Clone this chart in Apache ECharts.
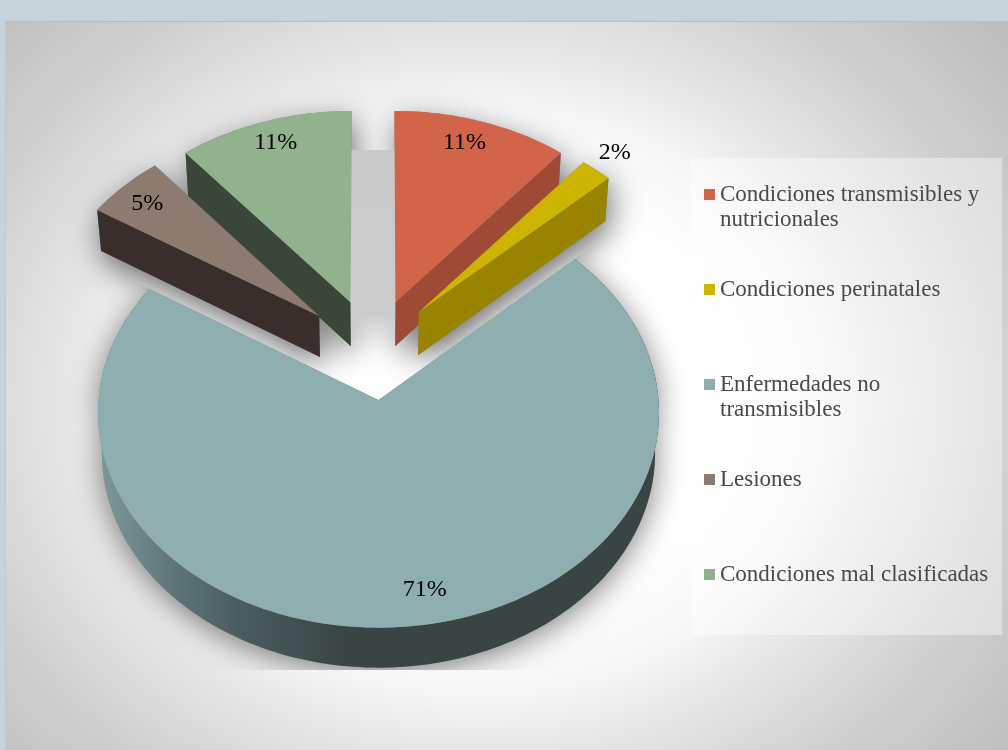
<!DOCTYPE html>
<html><head><meta charset="utf-8">
<style>html,body{margin:0;padding:0;background:#c6d3da}#c{width:1008px;height:750px}</style>
<script src="https://cdn.jsdelivr.net/npm/echarts@6/dist/echarts.min.js"></script>
</head><body><div id="c"></div>
<script>
const categories = ['Condiciones transmisibles y nutricionales','Condiciones perinatales','Enfermedades no transmisibles','Lesiones','Condiciones mal clasificadas'];
const legendLabels = ['\nCondiciones transmisibles y\nnutricionales','\nCondiciones perinatales\n ','\nEnfermedades no\ntransmisibles','\nLesiones\n ','\nCondiciones mal clasificadas\n '];
const values = [11, 2, 71, 5, 11];

const topColors = ['#d2644a','#ccb400','#8eaeb0','#8c7b6e','#90b28d'];
const wallColors = ['#9f4a35','#998400','#394545','#3a2e2c','#3a4638'];
const wallFaces = ['end','end','rim','start','start'];
const explodes = [[.062,-.47],[.147,-.42],[0,0],[-.217,-.402],[-.103,-.47]];
const depths = [44,43,40,41,44];
const drawOrder = [2,4,0,1,3];
const labelPlace = [[.85,-5,-5],[1.15,-7,3],[.84,23,1],[.85,-5,-1],[.85,-1,-5]];

const cx = 378.5, cy = 400, rx = 280, ry = 214, k = .06, wallScale = .986;
const total = values.reduce((a,b)=>a+b,0);
function project(X,Y){const s=1/(1-k*Y);return [cx+rx*X*s,cy+ry*Y*s];}
function lower(p,h){return [cx+(p[0]-cx)*wallScale,p[1]+h];}

function renderSlice(i){
  return function(params,api){
    const val = api.value(0);
    let before = 0; for(let j=0;j<i;j++) before += values[j];
    const a0 = before/total*Math.PI*2, a1 = (before+val)/total*Math.PI*2;
    const [ex,ey] = explodes[i], h = depths[i];
    const apex = project(ex,ey);
    const n = Math.max(8,Math.ceil((a1-a0)*40));
    const arc = [], vs = [];
    for(let t=0;t<=n;t++){
      const a=a0+(a1-a0)*t/n, u=Math.sin(a), v=-Math.cos(a);
      arc.push(project(u+ex,v+ey)); vs.push(v);
    }
    const first = arc[0], last = arc[n];
    let sil, wall, clip;
    const face = wallFaces[i];
    if(face==='end'){
      wall=[apex,last,lower(last,h),lower(apex,h)];
      sil=[apex].concat(arc,[lower(last,h),lower(apex,h)]);
    }else if(face==='start'){
      wall=[apex,first,lower(first,h),lower(apex,h)];
      sil=[apex,lower(apex,h),lower(first,h)].concat(arc);
    }else{
      const below = arc.map(p=>lower(p,h));
      wall = arc.concat(below.slice().reverse());
      sil = [apex].concat(arc.map((p,t)=>vs[t]>-.05?lower(p,h):p));
      const out = (p)=>[apex[0]+(p[0]-apex[0])*1.5,apex[1]+(p[1]-apex[1])*1.5];
      clip = {type:'polygon',shape:{points:[apex,out(first),[1008,670],[0,670],out(last)]}};
    }
    const order = drawOrder.indexOf(i)+1;
    const wallFill = face==='rim'
      ? new echarts.graphic.LinearGradient(103,0,655,0,[
          {offset:0,color:'#7d9799'},{offset:.12,color:'#5f7779'},{offset:.25,color:'#4a5c5d'},
          {offset:.44,color:'#394545'},{offset:1,color:'#394545'}],true)
      : wallColors[i];
    const labelR = labelPlace[i][0], mid=(a0+a1)/2;
    const lp = project(Math.sin(mid)*labelR+ex,-Math.cos(mid)*labelR+ey);
    const shadowEl = {type:'polygon',z2:1,silent:true,shape:{points:sil},
      style:{fill:'#888',shadowBlur:30,shadowColor:face==='rim'?'rgba(0,0,0,.5)':'rgba(0,0,0,.55)',
        shadowOffsetX:face==='rim'?0:3,shadowOffsetY:face==='rim'?5:10}};
    if(clip) shadowEl.clipPath = clip;
    const children = [
      shadowEl,
      {type:'polygon',z2:10+order*2,silent:true,shape:{points:wall},style:{fill:wallFill}},
      {type:'polygon',z2:11+order*2,silent:true,shape:{points:[apex].concat(arc)},style:{fill:topColors[i]}},
      {type:'text',z2:100,silent:true,style:{text:val+'%',x:lp[0]+labelPlace[i][1],y:lp[1]+labelPlace[i][2],
        align:'center',verticalAlign:'middle',fill:'#000',font:'24px "Liberation Serif"'}}
    ];
    if(face==='rim'){
      children.push({type:'rect',z2:5,silent:true,shape:{x:350,y:150,width:46,height:205},
        style:{fill:new echarts.graphic.LinearGradient(0,0,0,1,[
          {offset:0,color:'#c9c9c9'},{offset:.8,color:'#cccccc'},{offset:1,color:'rgba(220,220,220,0)'}])}});
    }
    return {type:'group',children};
  };
}

const bgScale = .85, bgCy = 400;
const chart = echarts.init(document.getElementById('c'));
chart.setOption({
  animation:false,
  backgroundColor:'#c6d3da',
  graphic:[
    {type:'rect',z:-5,silent:true,scaleY:bgScale,originX:0,originY:bgCy,
     shape:{x:6,y:bgCy+(22-bgCy)/bgScale,width:1002,height:728/bgScale},
     style:{fill:{type:'radial',x:480,y:bgCy,r:690,global:true,colorStops:[
       {offset:0,color:'#ffffff'},{offset:.34,color:'#ffffff'},{offset:.5,color:'#f6f6f6'},
       {offset:.59,color:'#e8e8e8'},{offset:.67,color:'#dedede'},{offset:.775,color:'#d0d0d0'},
       {offset:.93,color:'#c2c2c2'},{offset:1,color:'#bcbcbc'}]}}},
    {type:'rect',z:-5,silent:true,shape:{x:5,y:21,width:1003,height:1},style:{fill:'#b9bcbe'}},
    {type:'rect',z:-5,silent:true,shape:{x:5,y:21,width:1,height:729},style:{fill:'#c4c6c7'}},
    {type:'rect',z:-4,silent:true,shape:{x:691,y:158,width:311,height:477},
     style:{fill:'rgba(255,255,255,.4)'}}
  ],
  legend:{
    orient:'vertical',left:704,top:157,padding:0,itemWidth:11,itemHeight:11,itemGap:20,selectedMode:false,
    icon:'rect',align:'left',
    textStyle:{fontFamily:'"Liberation Serif"',fontSize:23,color:'#4a4a4a',lineHeight:25},
    data:categories,
    formatter:name=>legendLabels[categories.indexOf(name)]
  },
  series:categories.map((name,i)=>({
    type:'custom',name,coordinateSystem:'none',silent:true,clip:false,
    itemStyle:{color:topColors[i]},
    data:[values[i]],
    renderItem:renderSlice(i)
  }))
});
</script></body></html>
